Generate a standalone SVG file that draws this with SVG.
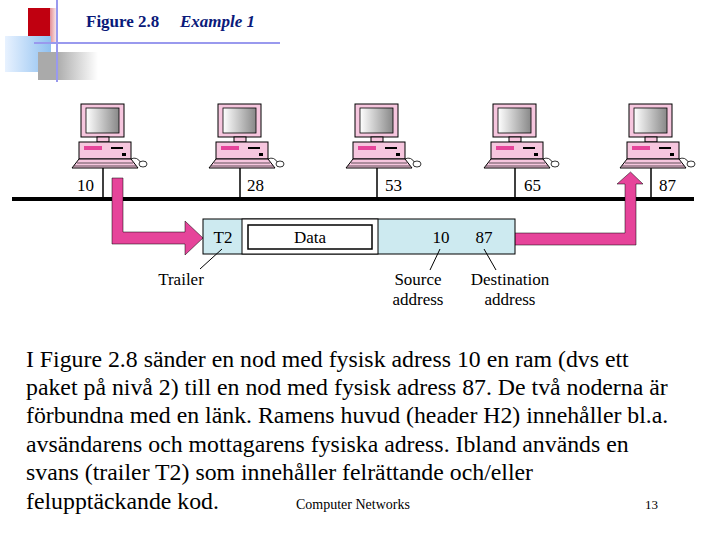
<svg xmlns="http://www.w3.org/2000/svg" xmlns:xlink="http://www.w3.org/1999/xlink" width="720" height="540" viewBox="0 0 720 540">
<style>
.lbl{font-family:"Liberation Serif",serif;font-size:17px;fill:#000}
.sans{font-family:"Liberation Serif",serif;font-size:17px;fill:#000}
.body{font-family:"Liberation Serif",serif;font-size:23.8px;fill:#000}
.pc{fill:#f6c6de;stroke:#000;stroke-width:1}
.pk{fill:#e6449a}
</style>
<defs>
<linearGradient id="scr" x1="0" x2="1"><stop offset="0" stop-color="#fff"/><stop offset="1" stop-color="#888"/></linearGradient>
<linearGradient id="rg" x1="0" x2="1"><stop offset="0.4" stop-color="#c00010"/><stop offset="1" stop-color="#fff"/></linearGradient>
<linearGradient id="bg" x1="0" x2="1"><stop offset="0" stop-color="#e8f2ff"/><stop offset="1" stop-color="#8fc0f0"/></linearGradient>
<linearGradient id="gg" x1="0" x2="1"><stop offset="0.3" stop-color="#aaa"/><stop offset="1" stop-color="#fff"/></linearGradient>
<g id="pc">
<rect class="pc" x="-22" y="-64" width="43" height="33"/>
<rect x="-17" y="-60" width="33" height="25" fill="url(#scr)" stroke="#000" stroke-width="0.8"/>
<rect class="pc" x="-6" y="-31" width="12" height="5"/>
<rect class="pc" x="-24" y="-26" width="52" height="17"/>
<rect x="-19" y="-22" width="18" height="4" fill="#e6449a"/>
<rect x="8" y="-21" width="12" height="2" fill="#000"/>
<rect x="19" y="-15" width="4" height="3" fill="#000"/>
<path class="pc" d="M-24 -9 H28 L35 0 H-31 Z"/>
<path d="M-26 -5 H30 M-29 -2 H33" stroke="#000" stroke-width="0.6"/>
<path d="M28 -9 Q34 -12 38 -5" fill="none" stroke="#000" stroke-width="0.8"/>
<ellipse cx="40" cy="-4" rx="4" ry="3" fill="#fff" stroke="#000" stroke-width="0.8"/>
</g>
</defs>
<rect width="720" height="540" fill="#fff"/>
<g id="decor">
<rect x="28" y="8" width="30" height="34" fill="url(#rg)"/>
<rect x="5" y="36" width="46" height="36" fill="url(#bg)"/>
<rect x="38" y="52" width="60" height="28" fill="url(#gg)"/>
<rect x="28" y="8" width="22" height="28" fill="#c00010"/>
<line x1="57" y1="0" x2="57" y2="82" stroke="#9999ee" stroke-width="2"/>
<line x1="34" y1="43" x2="280" y2="43" stroke="#9999ee" stroke-width="2"/>
</g>
<text x="86" y="27" font-family="Liberation Serif,serif" font-size="17" font-weight="bold" fill="#0a1a7a">Figure 2.8</text>
<text x="180" y="27" font-family="Liberation Serif,serif" font-size="17" font-weight="bold" font-style="italic" fill="#0a1a7a">Example 1</text>
<g id="connectors" stroke="#000">
<line x1="12" y1="199" x2="694" y2="199" stroke-width="4"/>
<line x1="103" y1="168" x2="103" y2="199" stroke-width="1.5"/>
<line x1="240" y1="168" x2="240" y2="199" stroke-width="1.5"/>
<line x1="377" y1="168" x2="377" y2="199" stroke-width="1.5"/>
<line x1="515" y1="168" x2="515" y2="199" stroke-width="1.5"/>
<line x1="651" y1="168" x2="651" y2="199" stroke-width="1.5"/>
</g>
<g id="pc10"><use xlink:href="#pc" x="103" y="168"/><text class="lbl" x="77" y="191">10</text></g>
<g id="pc28"><use xlink:href="#pc" x="240" y="168"/><text class="lbl" x="247" y="191">28</text></g>
<g id="pc53"><use xlink:href="#pc" x="377" y="168"/><text class="lbl" x="385" y="191">53</text></g>
<g id="pc65"><use xlink:href="#pc" x="515" y="168"/><text class="lbl" x="524" y="191">65</text></g>
<g id="pc87"><use xlink:href="#pc" x="651" y="168"/><text class="lbl" x="659" y="191">87</text></g>
<g id="arrows">
<path class="pk" d="M112 178 H123 V232 H185 V221 L203 238 L185 255 V244 H112 Z" stroke="#000" stroke-width="0.5"/>
<path class="pk" d="M513 233 H625 V184 H617 L630.5 172 L643 184 H636 V245 H513 Z" stroke="#000" stroke-width="0.5"/>
</g>
<g id="frame">
<rect x="203" y="219" width="312" height="35" fill="#cdeaf0" stroke="#000"/>
<rect x="242" y="219" width="136" height="35" fill="#fff" stroke="#000"/>
<rect x="248" y="225" width="124" height="24" fill="#fff" stroke="#000" stroke-width="1.5"/>
<text class="sans" x="223" y="243" text-anchor="middle">T2</text>
<text class="sans" x="310" y="243" text-anchor="middle">Data</text>
<text class="sans" x="441" y="243" text-anchor="middle">10</text>
<text class="sans" x="484" y="243" text-anchor="middle">87</text>
<line x1="222" y1="249" x2="200" y2="269" stroke="#000"/>
<line x1="440" y1="249" x2="430" y2="270" stroke="#000"/>
<line x1="484" y1="249" x2="496" y2="270" stroke="#000"/>
<text class="sans" x="181" y="285" text-anchor="middle">Trailer</text>
<text class="sans" x="418" y="285" text-anchor="middle">Source</text>
<text class="sans" x="418" y="305" text-anchor="middle">address</text>
<text class="sans" x="510" y="285" text-anchor="middle">Destination</text>
<text class="sans" x="510" y="305" text-anchor="middle">address</text>
</g>
<g id="text">
<text class="body" x="26" y="367">I Figure 2.8 sänder en nod med fysisk adress 10 en ram (dvs ett</text>
<text class="body" x="26" y="395">paket på nivå 2) till en nod med fysisk adress 87. De två noderna är</text>
<text class="body" x="26" y="423">förbundna med en länk. Ramens huvud (header H2) innehåller bl.a.</text>
<text class="body" x="26" y="452">avsändarens och mottagarens fysiska adress. Ibland används en</text>
<text class="body" x="26" y="480">svans (trailer T2) som innehåller felrättande och/eller</text>
<text class="body" x="26" y="509">felupptäckande kod.</text>
<text x="296" y="509" font-family="Liberation Serif,serif" font-size="14" fill="#000">Computer Networks</text>
<text x="645" y="509" font-family="Liberation Serif,serif" font-size="13" fill="#000">13</text>
</g>
</svg>
